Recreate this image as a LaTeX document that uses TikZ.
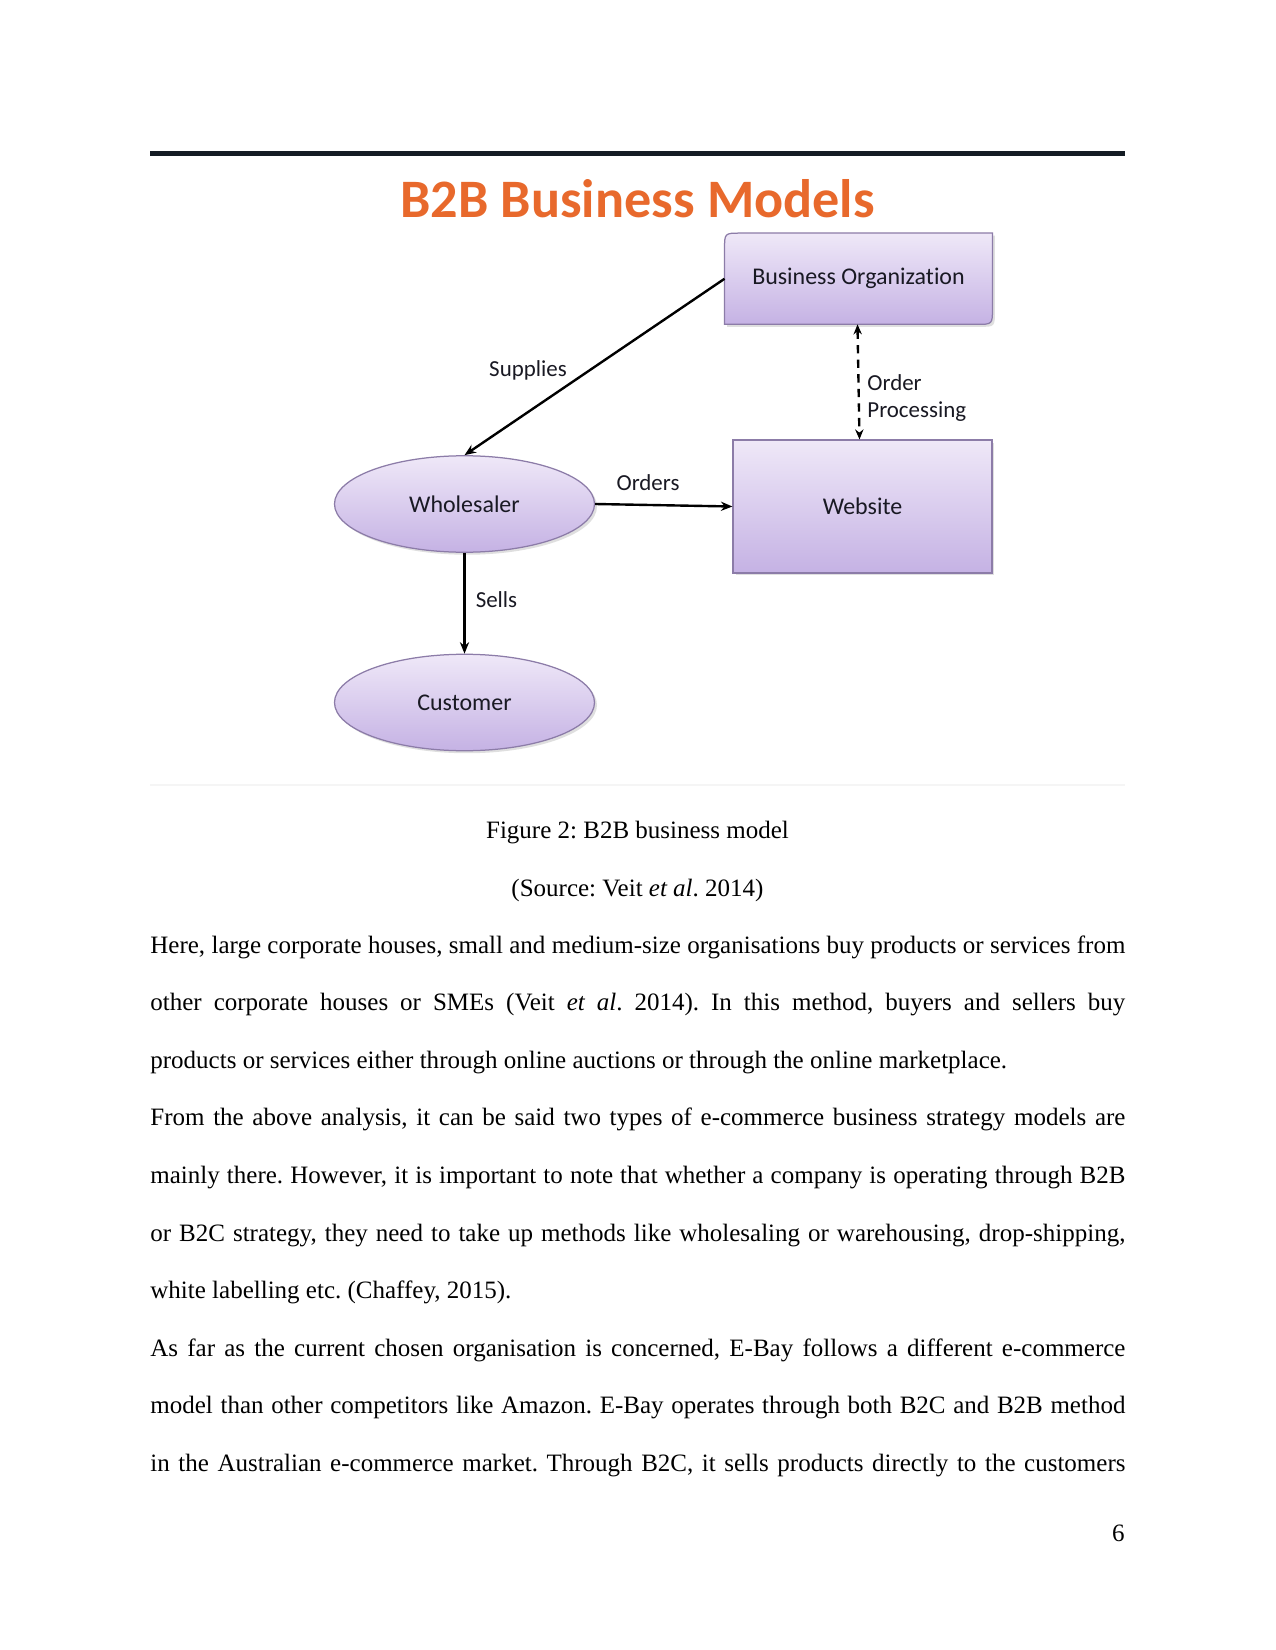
\documentclass[tikz,border=0pt]{standalone}
\usepackage{fontspec}
\setmainfont{Liberation Serif}
\newfontfamily\calfont[Ligatures={NoCommon}]{Carlito}
\usetikzlibrary{arrows.meta,shapes.geometric,shadows,calc}
\definecolor{titleor}{RGB}{232,105,44}
\definecolor{lavtop}{RGB}{239,232,248}
\definecolor{lavbot}{RGB}{197,178,228}
\definecolor{lavedge}{RGB}{140,124,168}
\definecolor{txtdark}{RGB}{25,25,35}
\tikzset{
  shapefill/.style={top color=lavtop, bottom color=lavbot, draw=lavedge, line width=0.6pt,
    drop shadow={opacity=0.25, shadow xshift=1.2pt, shadow yshift=-1.2pt}},
  ellnode/.style={ellipse, shapefill, minimum width=124.8pt, minimum height=46.3pt, inner sep=0pt,
    font=\calfont\fontsize{11.5}{13}\selectfont, text=txtdark},
  boxnode/.style={rectangle, inner sep=0pt},
  boxtext/.style={font=\calfont\fontsize{11.5}{13}\selectfont, text=txtdark, inner sep=0pt},
  lbl/.style={font=\calfont\fontsize{11}{12.5}\selectfont, text=txtdark, inner sep=0pt},
  arr/.style={-{Stealth[length=5.5pt,width=4.4pt]}, line width=1.15pt, black},
  darr/.style={{Stealth[length=4.8pt,width=4pt]}-{Stealth[length=4.8pt,width=4pt]}, line width=1.15pt, black, dash pattern=on 4pt off 3pt},
  body/.style={font=\fontsize{12}{14}\selectfont, inner sep=0pt, anchor=base west},
  capt/.style={font=\fontsize{12}{14}\selectfont, inner sep=0pt, anchor=base}
}
\begin{document}
\frenchspacing
\begin{tikzpicture}[x=0.48pt,y=-0.48pt]
\useasboundingbox[fill=white] (0,0) rectangle (1275,1650);

% top rule
\draw[line width=2.3pt, color={rgb,255:red,20;green,28;blue,36}] (150,153.5) -- (1125,153.5);
% faint image edge
\draw[line width=0.6pt, color=black!4] (150,785) -- (1125,785);

% title
\node[anchor=base, font=\calfont\bfseries\fontsize{26}{30}\selectfont, text=titleor, inner sep=0pt] (title) at (637.5,218) {B2B Business Models};

% Business Organization (rounded diagonal corners)
\node[boxnode, minimum width=128.2pt, minimum height=43.4pt] (BO) at (858.5,278.75) {};
\path[shapefill] (BO.south west) -- ($(BO.north west)+(0,16)$) .. controls (BO.north west) .. ($(BO.north west)+(16,0)$)
  -- (BO.north east) -- ($(BO.south east)+(0,-16)$) .. controls (BO.south east) .. ($(BO.south east)+(-16,0)$) -- cycle;
\node[boxtext] (BOt) at (BO.center) {Business Organization};

% Website
\node[boxnode, shapefill, minimum width=124.3pt, minimum height=63.8pt, boxtext] (Web) at (862.5,506.5) {Website};

% Ellipses
\node[ellnode] (W) at (464.5,504) {Wholesaler};
\node[ellnode] (C) at (464.5,702.5) {Customer};

% connectors
\draw[arr] (BO.west) -- (W.north);
\draw[arr] (W.east) -- (Web.west);
\draw[arr] (W.south) -- (C.north);
\draw[darr] ($(BO.south)+(-1,0)$) -- ($(Web.north)+(-3,0)$);

% labels
\node[lbl] (lsup) at (528,370) {Supplies};
\node[lbl] (lord) at (648,483) {Orders};
\node[lbl] (lsel) at (496.5,600) {Sells};
\node[lbl, anchor=west, align=left] (lop) at (867,398) {Order\\Processing};

% captions
\node[capt] (cap1) at (637.5,838) {Figure 2: B2B business model};
\node[capt] (cap2) at (637.5,896) {(Source: Veit \textit{et al}. 2014)};

% body text
\node[body] (l1) at (150,953) {\makebox[468pt][s]{Here, large corporate houses, small and medium-size organisations buy products or services from}};
\node[body] (l2) at (150,1010.6) {\makebox[468pt][s]{other corporate houses or SMEs (Veit \textit{et al}. 2014). In this method, buyers and sellers buy}};
\node[body] (l3) at (150,1068.2) {products or services either through online auctions or through the online marketplace.};
\node[body] (l4) at (150,1125.8) {\makebox[468pt][s]{From the above analysis, it can be said two types of e-commerce business strategy models are}};
\node[body] (l5) at (150,1183.4) {\makebox[468pt][s]{mainly there. However, it is important to note that whether a company is operating through B2B}};
\node[body] (l6) at (150,1241) {\makebox[468pt][s]{or B2C strategy, they need to take up methods like wholesaling or warehousing, drop-shipping,}};
\node[body] (l7) at (150,1298.6) {white labelling etc. (Chaffey, 2015).};
\node[body] (l8) at (150,1356.2) {\makebox[468pt][s]{As far as the current chosen organisation is concerned, E-Bay follows a different e-commerce}};
\node[body] (l9) at (150,1413.8) {\makebox[468pt][s]{model than other competitors like Amazon. E-Bay operates through both B2C and B2B method}};
\node[body] (l10) at (150,1471.4) {\makebox[468pt][s]{in the Australian e-commerce market. Through B2C, it sells products directly to the customers}};

% page number
\node[font=\fontsize{12}{14}\selectfont, inner sep=0pt, anchor=base east] (pg) at (1125,1541) {6};
\end{tikzpicture}
\end{document}
